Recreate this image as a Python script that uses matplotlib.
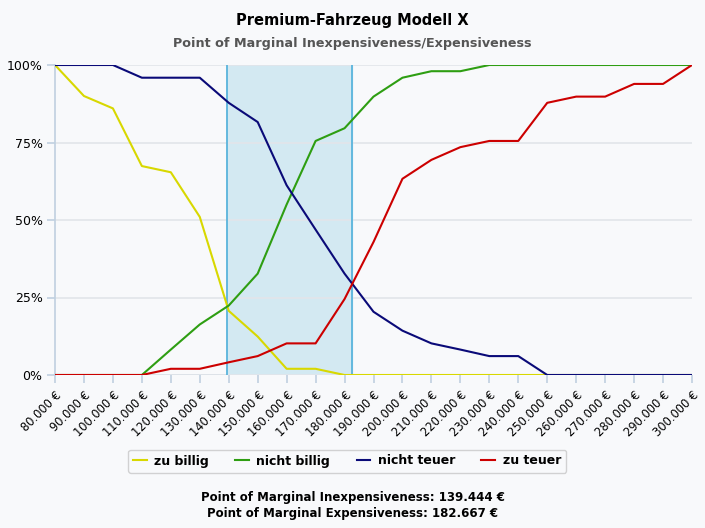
import matplotlib.pyplot as plt
from matplotlib.ticker import FuncFormatter

# Preise (in Euro)
preise = [80000, 90000, 100000, 110000, 120000, 130000, 140000, 150000, 160000,
          170000, 180000, 190000, 200000, 210000, 220000, 230000, 240000, 250000,
          260000, 270000, 280000, 290000, 300000]
preis_labels = ["80.000 €", "90.000 €", "100.000 €", "110.000 €", "120.000 €",
                "130.000 €", "140.000 €", "150.000 €", "160.000 €", "170.000 €",
                "180.000 €", "190.000 €", "200.000 €", "210.000 €", "220.000 €",
                "230.000 €", "240.000 €", "250.000 €", "260.000 €", "270.000 €",
                "280.000 €", "290.000 €", "300.000 €"]

# Kumulierte Anteile in %
zu_billig = [100, 90, 86, 67.4, 65.4, 51, 20.7, 12.4, 2, 2, 0, 0, 0, 0, 0, 0,
             0, 0, 0, 0, 0, 0, 0]
nicht_billig = [0, 0, 0, 0, 8.2, 16.3, 22.4, 32.7, 55, 75.5, 79.6, 89.8, 95.9,
                98, 98, 100, 100, 100, 100, 100, 100, 100, 100]
nicht_teuer = [100, 100, 100, 95.9, 95.9, 95.9, 87.8, 81.6, 61.2, 46.9, 32.7,
               20.4, 14.3, 10.2, 8.2, 6.1, 6.1, 0, 0, 0, 0, 0, 0]
zu_teuer = [0, 0, 0, 0, 2, 2, 4.1, 6.1, 10.2, 10.2, 24.5, 42.9, 63.3, 69.4,
            73.5, 75.5, 75.5, 87.8, 89.8, 89.8, 93.9, 93.9, 100]

pmi = 139444
pme = 182667

BG = "#f8f9fb"
AXIS = "#c0d0e0"

fig = plt.figure(figsize=(7.05, 5.28), dpi=100, facecolor=BG)
ax = fig.add_axes([55 / 705, 1 - 375 / 528, 637 / 705, 310 / 528], facecolor=BG)

# Bereich zwischen PMI und PME
ax.axvspan(pmi, pme, color="#d3e9f2", zorder=1)
ax.axvline(pmi, color="#5ab4dc", lw=1.3, zorder=2)
ax.axvline(pme, color="#5ab4dc", lw=1.3, zorder=2)

lw = 1.5
ax.plot(preise, zu_billig, color="#d8d800", lw=lw, label="zu billig", zorder=3)
ax.plot(preise, nicht_billig, color="#2e9e12", lw=lw, label="nicht billig", zorder=3)
ax.plot(preise, nicht_teuer, color="#0a0a78", lw=lw, label="nicht teuer", zorder=3)
ax.plot(preise, zu_teuer, color="#cc0000", lw=lw, label="zu teuer", zorder=3)

ax.set_xlim(preise[0], preise[-1])
ax.set_ylim(0, 100)
ax.set_yticks([0, 25, 50, 75, 100])
ax.yaxis.set_major_formatter(FuncFormatter(lambda v, p: f"{v:.0f}%"))
ax.set_xticks(preise)
ax.set_xticklabels(preis_labels, rotation=45, ha="right", rotation_mode="anchor")

ax.grid(axis="y", color="#e2e5ea", lw=1.2, zorder=0)
for s in ["top", "right", "bottom"]:
    ax.spines[s].set_visible(False)
ax.spines["left"].set_color(AXIS)
ax.spines["left"].set_linewidth(1.2)
ax.axhline(0, color=AXIS, lw=1.2, zorder=0)
ax.tick_params(axis="y", length=6, color=AXIS, width=1.2, labelsize=9, pad=3)
ax.tick_params(axis="x", length=6, color=AXIS, width=1.2, labelsize=8.3, pad=4)

fig.text(0.5, 1 - 20 / 528, "Premium-Fahrzeug Modell X", ha="center", va="center",
         fontsize=10.5, fontweight="bold", color="#000000")
fig.text(0.5, 1 - 43 / 528, "Point of Marginal Inexpensiveness/Expensiveness",
         ha="center", va="center", fontsize=9.2, fontweight="bold", color="#555555")

leg = fig.legend(loc="center", bbox_to_anchor=(347 / 705, 1 - 461 / 528), ncol=4,
                 frameon=True, handlelength=1.1, columnspacing=2.1,
                 handletextpad=0.6, facecolor=BG, edgecolor="#c8c8c8", fancybox=True,
                 prop={"weight": "bold", "size": 9})
leg.get_frame().set_linewidth(1.0)

fig.text(0.5, 1 - 497 / 528, "Point of Marginal Inexpensiveness: 139.444 €",
         ha="center", va="center", fontsize=8.5, fontweight="bold")
fig.text(0.5, 1 - 513 / 528, "Point of Marginal Expensiveness: 182.667 €",
         ha="center", va="center", fontsize=8.5, fontweight="bold")

fig.savefig("out.png", dpi=100, facecolor=BG)
